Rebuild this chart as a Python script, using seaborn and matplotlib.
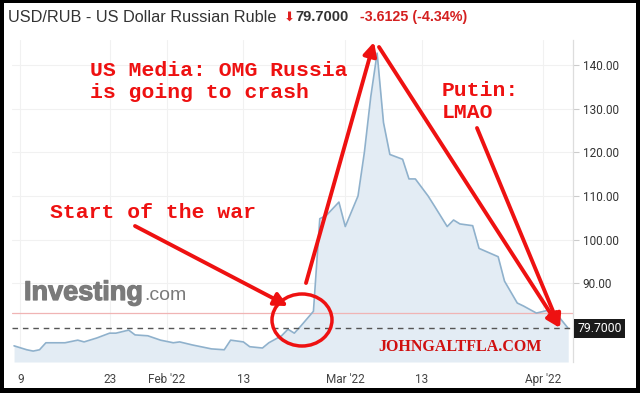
import matplotlib
matplotlib.use("Agg")
import matplotlib.pyplot as plt
import matplotlib.patheffects as pe
import numpy as np
import pandas as pd
import seaborn as sns
from matplotlib.patches import Ellipse, Rectangle, FancyArrowPatch

# ---------------- data ----------------
dates = ["2022-01-08", "2022-01-10", "2022-01-11", "2022-01-12", "2022-01-13",
         "2022-01-16", "2022-01-18", "2022-01-19", "2022-01-21", "2022-01-23",
         "2022-01-24", "2022-01-26", "2022-01-27", "2022-01-29", "2022-01-31",
         "2022-02-02", "2022-02-03", "2022-02-05", "2022-02-08", "2022-02-10",
         "2022-02-11", "2022-02-13", "2022-02-14", "2022-02-16", "2022-02-17",
         "2022-02-19", "2022-02-20", "2022-02-21", "2022-02-22", "2022-02-24",
         "2022-02-25", "2022-02-26", "2022-02-28", "2022-03-01", "2022-03-03",
         "2022-03-04", "2022-03-05", "2022-03-06", "2022-03-07", "2022-03-08",
         "2022-03-10", "2022-03-11", "2022-03-12", "2022-03-14", "2022-03-15",
         "2022-03-17", "2022-03-18", "2022-03-19", "2022-03-21", "2022-03-22",
         "2022-03-25", "2022-03-26", "2022-03-28", "2022-03-29", "2022-03-31",
         "2022-04-02", "2022-04-03", "2022-04-05"]
rates = [75.7, 74.8, 74.5, 74.8, 76.4,
         76.4, 77.0, 76.6, 77.5, 78.6,
         78.6, 79.3, 78.2, 78.0, 77.0,
         76.4, 76.6, 75.9, 75.0, 74.8,
         77.0, 76.6, 75.5, 75.2, 76.4,
         78.0, 79.5, 78.6, 80.2, 83.6,
         104.8, 105.5, 108.6, 103.0, 110.0,
         120.0, 132.7, 142.7, 126.8, 119.5,
         118.4, 113.9, 113.9, 110.0, 107.7,
         103.0, 104.5, 103.6, 103.2, 98.0,
         96.1, 90.5, 85.5, 84.8, 83.2,
         83.9, 83.3, 79.7]

last_price = 79.7
prev_close = 83.3125
change_text = "-3.6125 (-4.34%)"
y_ticks = [90, 100, 110, 120, 130, 140]
x_tick_dates = ["2022-01-09", "2022-01-23", "2022-02-01", "2022-02-13",
                "2022-03-01", "2022-03-13", "2022-04-01"]
x_tick_labels = ["9", "23", "Feb '22", "13", "Mar '22", "13", "Apr '22"]

title_text = "USD/RUB - US Dollar Russian Ruble"
media_lines = ["US Media: OMG Russia", "is going to crash"]
war_text = "Start of the war"
putin_lines = ["Putin:", "LMAO"]
site_text = "JOHNGALTFLA.COM"

# ---------------- style ----------------
sns.set_theme(style="white")
plt.rcParams['font.family'] = ['Roboto', 'DejaVu Sans']

W, H = 640, 393
fig = plt.figure(figsize=(W / 100, H / 100), dpi=100)
fig.patch.set_facecolor("white")


def fx(x):
    return x / W


def fy(y):
    return 1 - y / H


ax_left, ax_right, ax_top, ax_bottom = 12, 573, 40, 362
ax = fig.add_axes([fx(ax_left), fy(ax_bottom), (ax_right - ax_left) / W,
                   (ax_bottom - ax_top) / H])
ax.set_facecolor("white")

y_min, y_max = 72.0, 145.7
df = pd.DataFrame({"date": pd.to_datetime(dates), "rate": rates})

ax.fill_between(df["date"], df["rate"], y_min, color="#e3ecf4", lw=0, zorder=1)
sns.lineplot(data=df, x="date", y="rate", ax=ax, color="#8fb1cc", lw=1.2,
             zorder=3)

ax.set_ylim(y_min, y_max)
x0 = pd.Timestamp("2022-01-09") - pd.Timedelta(hours=31.7)
x1 = pd.Timestamp("2022-04-05") + pd.Timedelta(hours=18)
ax.set_xlim(x0, x1)

ax.axhline(prev_close, color="#f0b4b4", lw=0.9, zorder=2)
ax.axhline(last_price, color="#555555", lw=1.0, ls=(0, (4, 3.5)), zorder=4)

ax.yaxis.tick_right()
ax.set_yticks(y_ticks)
ax.set_yticklabels([f"{v:.2f}" for v in y_ticks])
ax.set_xticks(pd.to_datetime(x_tick_dates))
ax.set_xticklabels(x_tick_labels)
ax.tick_params(axis="y", length=4, width=0.8, color="#cccccc", pad=3,
               labelsize=8.5, labelcolor="#333333", right=True, left=False)
ax.tick_params(axis="x", length=0, pad=8, labelsize=8.5, labelcolor="#444444")
ax.set_xlabel("")
ax.set_ylabel("")
ax.grid(True, color="#f1f1f1", lw=0.8, zorder=0)
for s in ["left", "top", "bottom"]:
    ax.spines[s].set_visible(False)
ax.spines["right"].set_color("#dddddd")
ax.spines["right"].set_linewidth(0.9)

# price label box
ax.text(1.008, last_price, "79.7000", transform=ax.get_yaxis_transform(),
        ha="left", va="center", color="white", fontsize=8.8,
        bbox=dict(boxstyle="square,pad=0.25", fc="#1a1a1a", ec="none"),
        zorder=10, clip_on=False)

# ---------------- header ----------------
sans = ["Liberation Sans", "DejaVu Sans"]
fig.text(fx(8), fy(17), title_text, ha="left", va="center", fontsize=11.7,
         color="#333333", family=sans)
fig.text(fx(284), fy(17), "\u2B07", ha="left", va="center", fontsize=9.5,
         color="#e02020", family=["DejaVu Sans"])
fig.text(fx(295), fy(17), "79.7000", ha="left", va="center", fontsize=10.5,
         weight="bold", color="#333333", family=sans)
fig.text(fx(360), fy(17), change_text, ha="left", va="center", fontsize=10.3,
         weight="bold", color="#d42020", family=sans)

# ---------------- logo ----------------
fig.text(fx(24), fy(293), "Investing", ha="left", va="center", fontsize=19.5,
         weight="bold", color="#7a7a7a", family=sans,
         path_effects=[pe.withStroke(linewidth=0.9, foreground="#7a7a7a")])
fig.text(fx(144), fy(296), ".com", ha="left", va="center", fontsize=14,
         color="#7a7a7a", family=sans)

# ---------------- annotations ----------------
red = "#ee1111"
mono = ["Liberation Mono", "DejaVu Sans Mono"]
fs_ann = 15.4
fig.text(fx(90), fy(71), media_lines[0], ha="left", va="center", fontsize=fs_ann,
         weight="bold", color=red, family=mono)
fig.text(fx(90), fy(93), media_lines[1], ha="left", va="center", fontsize=fs_ann,
         weight="bold", color=red, family=mono)
fig.text(fx(50), fy(213), war_text, ha="left", va="center", fontsize=fs_ann,
         weight="bold", color=red, family=mono)
fig.text(fx(442), fy(90), putin_lines[0], ha="left", va="center", fontsize=fs_ann,
         weight="bold", color=red, family=mono)
fig.text(fx(442), fy(113), putin_lines[1], ha="left", va="center", fontsize=fs_ann,
         weight="bold", color=red, family=mono)
fig.text(fx(378), fy(347), site_text, ha="left", va="center", fontsize=11.5,
         weight="bold", color="#d01010", family=["Liberation Serif", "DejaVu Serif"])

arrows = [((135, 226), (288, 306)),
          ((306, 283), (374, 42)),
          ((379, 47), (560, 328)),
          ((477, 128), (560, 328))]
for (xs, ys), (xe, ye) in arrows:
    arr = FancyArrowPatch((fx(xs), fy(ys)), (fx(xe), fy(ye)),
                          transform=fig.transFigure, arrowstyle="-|>",
                          mutation_scale=20, lw=2.8, color=red,
                          shrinkA=0, shrinkB=0, zorder=20)
    fig.patches.append(arr)

circ = Ellipse((fx(302), fy(320)), 60 / W, 52 / H, transform=fig.transFigure,
               fill=False, ec=red, lw=2.5, zorder=20)
fig.patches.append(circ)

# ---------------- black frame ----------------
for (x, y, w, h) in [(0, 0, 4, H), (0, 0, W, 3), (636, 0, 4, H), (0, 388, W, 5)]:
    fig.patches.append(Rectangle((fx(x), fy(y + h)), w / W, h / H,
                                 transform=fig.transFigure, fc="black",
                                 ec="none", zorder=30))

fig.savefig("out.png", dpi=100)
